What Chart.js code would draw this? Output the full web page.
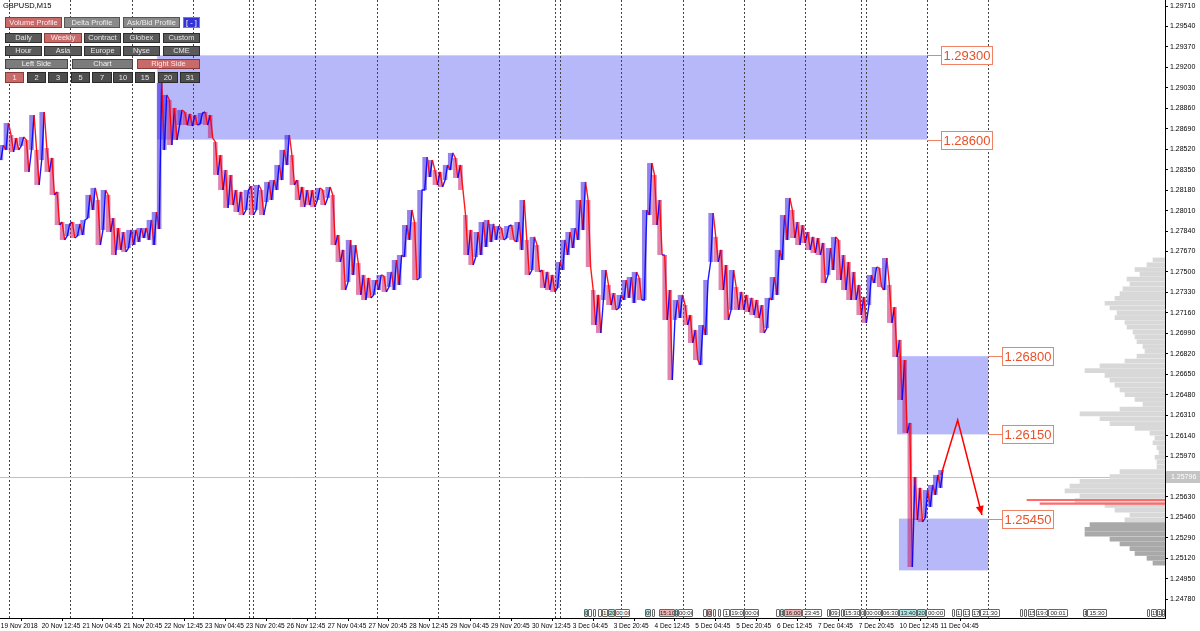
<!DOCTYPE html>
<html><head><meta charset="utf-8">
<script src="https://cdn.jsdelivr.net/npm/chart.js@4.4.1/dist/chart.umd.min.js"></script>
<style>
html,body{margin:0;padding:0;background:#fff;}
#wrap{position:relative;width:1200px;height:631px;overflow:hidden;font-family:'Liberation Sans',Arial,sans-serif;}
#main{position:absolute;left:0;top:0;}
#prof{position:absolute;left:1000px;top:0;}
.btn{position:absolute;box-sizing:border-box;font-size:7.5px;text-align:center;color:#f0f0f0;border:1px solid #333;white-space:nowrap;overflow:hidden;}
.mk{position:absolute;top:609px;height:8px;box-sizing:border-box;border:1px solid #666;font-size:6px;line-height:6px;overflow:hidden;text-align:center;color:#222;border-radius:1px;white-space:nowrap;}
#title{position:absolute;left:3px;top:1px;font-size:7.5px;color:#000;}
</style></head>
<body><div id="wrap"><canvas id="main" width="1200" height="631"></canvas><canvas id="prof" width="165" height="618"></canvas><div id="title">GBPUSD,M15</div></div>
<script>
// ---------- data ----------
const xLabels = ['19 Nov 2018','20 Nov 12:45','21 Nov 04:45','21 Nov 20:45','22 Nov 12:45','23 Nov 04:45','23 Nov 20:45','26 Nov 12:45','27 Nov 04:45','27 Nov 20:45','28 Nov 12:45','29 Nov 04:45','29 Nov 20:45','30 Nov 12:45','3 Dec 04:45','3 Dec 20:45','4 Dec 12:45','5 Dec 04:45','5 Dec 20:45','6 Dec 12:45','7 Dec 04:45','7 Dec 20:45','10 Dec 12:45','11 Dec 04:45'];
const labelEvery = 64;   // M15 bars between time labels
const sampleBars = 8;    // M15 bars per sample below
const yTicks = [1.24780,1.24950,1.25120,1.25290,1.25460,1.25630,1.25800,1.25970,1.26140,1.26310,1.26480,1.26650,1.26820,1.26990,1.27160,1.27330,1.27500,1.27670,1.27840,1.28010,1.28180,1.28350,1.28520,1.28690,1.28860,1.29030,1.29200,1.29370,1.29540,1.29710];
const highs = [
1.28555,1.28738,1.28638,1.28613,1.28622,1.28597,1.28804,1.28514,1.28829,1.28530,
1.28447,1.28165,1.27915,1.27899,1.27915,1.27899,1.27932,1.28140,1.28198,1.28098,
1.28181,1.28140,1.27948,1.27865,1.27832,1.27849,1.27849,1.27865,1.27865,1.27932,
1.27998,1.29070,1.28971,1.28929,1.28863,1.28846,1.28829,1.28813,1.28804,1.28821,
1.28829,1.28804,1.28580,1.28472,1.28347,1.28306,1.28181,1.28165,1.28181,1.28214,
1.28223,1.28181,1.28248,1.28264,1.28389,1.28514,1.28638,1.28472,1.28264,1.28206,
1.28181,1.28181,1.28198,1.28181,1.28206,1.28140,1.27807,1.27683,1.27766,1.27724,
1.27574,1.27475,1.27450,1.27433,1.27475,1.27466,1.27500,1.27599,1.27641,1.27890,
1.28015,1.27915,1.28181,1.28455,1.28430,1.28347,1.28331,1.28389,1.28489,1.28447,
1.28389,1.27973,1.27849,1.27832,1.27915,1.27932,1.27899,1.27882,1.27865,1.27882,
1.27890,1.27915,1.28098,1.27766,1.27791,1.27724,1.27516,1.27500,1.27475,1.27583,
1.27766,1.27832,1.27865,1.28098,1.28248,1.28098,1.27350,1.27309,1.27516,1.27392,
1.27325,1.27309,1.27433,1.27458,1.27500,1.27450,1.28015,1.28405,1.28306,1.28098,
1.27641,1.27350,1.27267,1.27309,1.27225,1.27142,1.27018,1.27059,1.27433,1.27990,
1.27791,1.27683,1.27558,1.27516,1.27375,1.27334,1.27309,1.27284,1.27267,1.27225,
1.27284,1.27458,1.27683,1.27973,1.28115,1.28015,1.27915,1.27890,1.27832,1.27791,
1.27782,1.27741,1.27699,1.27791,1.27766,1.27641,1.27583,1.27500,1.27392,1.27292,
1.27475,1.27541,1.27533,1.27616,1.27392,1.27208,1.26935,1.26768,1.26245,1.25796,
1.25705,1.25688,1.25730,1.25813,1.25854];
const lows = [
1.28430,1.28514,1.28497,1.28514,1.28547,1.28331,1.28514,1.28223,1.28430,1.28331,
1.28140,1.27890,1.27766,1.27799,1.27782,1.27799,1.27807,1.27948,1.28015,1.27724,
1.27849,1.27832,1.27641,1.27683,1.27666,1.27699,1.27724,1.27749,1.27782,1.27766,
1.27724,1.27857,1.28514,1.28555,1.28597,1.28721,1.28721,1.28713,1.28721,1.28730,
1.28721,1.28613,1.28306,1.28181,1.28032,1.28056,1.27998,1.27973,1.28015,1.27973,
1.28015,1.27973,1.28081,1.28098,1.28181,1.28264,1.28389,1.28223,1.28098,1.28040,
1.28056,1.28040,1.28098,1.28056,1.28115,1.27724,1.27583,1.27350,1.27417,1.27475,
1.27309,1.27267,1.27284,1.27309,1.27350,1.27334,1.27375,1.27350,1.27392,1.27624,
1.27766,1.27433,1.27450,1.28181,1.28289,1.28223,1.28206,1.28264,1.28347,1.28281,
1.28181,1.27641,1.27558,1.27624,1.27641,1.27707,1.27749,1.27766,1.27766,1.27782,
1.27766,1.27749,1.27683,1.27475,1.27516,1.27500,1.27367,1.27350,1.27334,1.27367,
1.27516,1.27641,1.27699,1.27766,1.27849,1.27541,1.27059,1.26993,1.27267,1.27225,
1.27184,1.27200,1.27267,1.27284,1.27242,1.27267,1.27267,1.27973,1.27890,1.27641,
1.27101,1.26602,1.27101,1.27117,1.27059,1.26910,1.26768,1.26727,1.26976,1.27583,
1.27583,1.27350,1.27101,1.27184,1.27184,1.27184,1.27167,1.27142,1.27117,1.26993,
1.27034,1.27267,1.27309,1.27599,1.27766,1.27782,1.27724,1.27741,1.27683,1.27658,
1.27641,1.27408,1.27475,1.27516,1.27433,1.27350,1.27267,1.27267,1.27142,1.27076,
1.27225,1.27408,1.27375,1.27350,1.27076,1.26793,1.26436,1.26162,1.25048,1.25439,
1.25422,1.25455,1.25547,1.25647,1.25705];
const daySeparators = [13,109,205,301,389,395,492,589,685,780,868,876,972,1069,1164,1260,1348,1355,1451,1547];
const zoneFrom   = [245, 1404, 1407];
const zoneTo     = [1451, 1547, 1547];
const zoneTop    = [1.29300, 1.26800, 1.25450];
const zoneBottom = [1.28600, 1.26150, 1.25020];
const levelPrices = [1.29300, 1.28600, 1.26800, 1.26150, 1.25450];
const levelAnchor = [1451, 1451, 1547, 1547, 1547];
const arrowX = [1473, 1499, 1537];
const arrowY = [1.25813, 1.26270, 1.25480];
const lastPrice = 1.25796;
const profPrices = [1.2760,1.2756,1.2752,1.2748,1.2744,1.2740,1.2736,1.2732,1.2728,1.2724,1.2720,1.2716,1.2712,1.2708,1.2704,1.2700,1.2696,1.2692,1.2688,1.2684,1.2680,1.2676,1.2672,1.2668,1.2664,1.2660,1.2656,1.2652,1.2648,1.2644,1.2640,1.2636,1.2632,1.2628,1.2624,1.2620,1.2616,1.2612,1.2608,1.2604,1.2600,1.2596,1.2592,1.2588,1.2584,1.2580,1.2576,1.2572,1.2568,1.2564,1.2560,1.2556,1.2552,1.2548,1.2544,1.2540,1.2536,1.2532,1.2528,1.2524,1.2520,1.2516,1.2512,1.2508];
const profVolumes = [12,18,30,25,38,35,42,45,50,60,55,48,50,40,38,32,30,28,22,20,28,40,65,80,60,55,50,45,40,30,22,45,85,65,55,30,15,10,12,8,6,10,8,8,45,55,85,95,100,85,90,60,50,35,40,75,80,80,55,45,35,30,18,12];
const pocPrices = [1.25605, 1.25575];
const pocVolumes = [138, 125];

// ---------- layout constants ----------
const yMin = 1.24624, yMax = 1.29760;
const xMin = -1.33, xMax = 1823.8;

const blue = 'rgba(0,0,255,0.9)', red = 'rgba(255,0,0,0.9)';
const barColors = highs.map((h, i) => i === 0 ? blue : ((h + lows[i]) >= (highs[i-1] + lows[i-1]) ? blue : red));
// each 2-hour sample is drawn as its low->high (rising) or high->low (falling) swing
const pricePath = [];
highs.forEach((h, i) => {
  const up = barColors[i] === blue;
  pricePath.push({x: i * sampleBars, y: up ? lows[i] : h});
  pricePath.push({x: i * sampleBars + sampleBars / 2, y: up ? h : lows[i]});
});

const mtPlugin = {
  id: 'mt',
  beforeDatasetsDraw(chart) {
    const {ctx, chartArea: a, scales: {x, y}} = chart;
    ctx.save();
    ctx.beginPath(); ctx.rect(a.left, a.top, a.right - a.left, a.bottom - a.top); ctx.clip();
    ctx.fillStyle = 'rgb(182,184,250)';
    zoneFrom.forEach((f, i) => {
      const x0 = x.getPixelForValue(f), x1 = x.getPixelForValue(zoneTo[i]);
      const y0 = y.getPixelForValue(zoneTop[i]), y1 = y.getPixelForValue(zoneBottom[i]);
      ctx.fillRect(x0, y0, x1 - x0, y1 - y0);
    });
    ctx.strokeStyle = '#444'; ctx.lineWidth = 1; ctx.setLineDash([2, 2]);
    daySeparators.forEach(b => {
      const px = Math.round(x.getPixelForValue(b)) + 0.5;
      ctx.beginPath(); ctx.moveTo(px, a.top); ctx.lineTo(px, a.bottom); ctx.stroke();
    });
    ctx.setLineDash([]);
    const py = Math.round(y.getPixelForValue(lastPrice)) + 0.5;
    ctx.strokeStyle = '#c0c0c0';
    ctx.beginPath(); ctx.moveTo(a.left, py); ctx.lineTo(a.right, py); ctx.stroke();
    ctx.restore();
  },
  afterDatasetsDraw(chart) {
    const {ctx, scales: {x, y}} = chart;
    const pts = chart.getDatasetMeta(2).data;
    const p1 = pts[pts.length - 2], p2 = pts[pts.length - 1];
    const ang = Math.atan2(p2.y - p1.y, p2.x - p1.x);
    ctx.save();
    ctx.fillStyle = '#ff0000';
    ctx.beginPath();
    ctx.moveTo(p2.x, p2.y);
    ctx.lineTo(p2.x - 9 * Math.cos(ang) + 4 * Math.sin(ang), p2.y - 9 * Math.sin(ang) - 4 * Math.cos(ang));
    ctx.lineTo(p2.x - 9 * Math.cos(ang) - 4 * Math.sin(ang), p2.y - 9 * Math.sin(ang) + 4 * Math.cos(ang));
    ctx.closePath(); ctx.fill();
    ctx.font = '13px "Liberation Sans", Arial, sans-serif';
    ctx.textBaseline = 'middle'; ctx.textAlign = 'left';
    levelPrices.forEach((p, i) => {
      const ax = x.getPixelForValue(levelAnchor[i]);
      const ly = Math.round(y.getPixelForValue(p)) + 0.5;
      const bx = Math.round(ax + 14) + 0.5;
      ctx.strokeStyle = 'rgb(240,130,100)'; ctx.lineWidth = 1;
      ctx.beginPath(); ctx.moveTo(ax, ly); ctx.lineTo(bx, ly); ctx.stroke();
      const txt = p.toFixed(5);
      const w = Math.round(ctx.measureText(txt).width + 4);
      ctx.fillStyle = '#fff'; ctx.fillRect(bx, ly - 9, w, 18);
      ctx.strokeRect(bx, ly - 9, w, 18);
      ctx.fillStyle = 'rgb(232,80,40)';
      ctx.fillText(txt, bx + 2, ly + 0.5);
    });
    ctx.restore();
  },
  afterDraw(chart) {
    const {ctx, chartArea: a, scales: {y}} = chart;
    const py = Math.round(y.getPixelForValue(lastPrice));
    ctx.save();
    ctx.fillStyle = '#c4c4c4'; ctx.fillRect(a.right + 1, py - 6, 34, 12);
    ctx.fillStyle = '#fff'; ctx.font = '7px "Liberation Sans", Arial, sans-serif';
    ctx.textBaseline = 'middle'; ctx.textAlign = 'left';
    ctx.fillText(lastPrice.toFixed(5), a.right + 6, py);
    ctx.restore();
  }
};

new Chart(document.getElementById('main'), {
  type: 'bar',
  data: { datasets: [
    { type: 'bar', data: highs.map((h, i) => ({x: i * sampleBars, y: [lows[i], h]})),
      backgroundColor: barColors.map(c => c === blue ? 'rgba(60,30,220,0.55)' : 'rgba(200,30,110,0.55)'),
      borderWidth: 0, categoryPercentage: 1, barPercentage: 0.9, order: 3 },
    { type: 'line', data: pricePath, borderWidth: 1.4, pointRadius: 0, fill: false, tension: 0, order: 2,
      borderColor: blue,
      segment: { borderColor: c => (c.p1.parsed.y >= c.p0.parsed.y ? blue : red) } },
    { type: 'line', data: arrowX.map((v, i) => ({x: v, y: arrowY[i]})),
      borderColor: '#ff0000', borderWidth: 1.5, pointRadius: 0, fill: false, tension: 0, order: 1 }
  ]},
  options: {
    responsive: false, animation: false, events: [],
    layout: {padding: 0},
    plugins: {legend: {display: false}, tooltip: {enabled: false}},
    scales: {
      x: { type: 'linear', position: 'bottom', min: xMin, max: xMax, offset: false,
        afterBuildTicks: s => { s.ticks = xLabels.map((_, i) => ({value: i * labelEvery})); },
        afterFit: s => { s.height = 13; s.paddingLeft = 0; s.paddingRight = 0; },
        ticks: { autoSkip: false, maxRotation: 0, minRotation: 0, align: 'start', padding: 1, color: '#000',
          font: {family: 'Liberation Sans', size: 6.5}, callback: (v, i) => xLabels[i] },
        grid: { drawOnChartArea: false, drawTicks: true, tickLength: 3, color: '#000' },
        border: { display: true, color: '#000' } },
      y: { type: 'linear', position: 'right', min: yMin, max: yMax,
        afterBuildTicks: s => { s.ticks = yTicks.map(v => ({value: v})); },
        afterFit: s => { s.width = 35; s.paddingTop = 0; s.paddingBottom = 0; },
        ticks: { autoSkip: false, padding: 2, color: '#000',
          font: {family: 'Liberation Sans', size: 7}, callback: v => Number(v).toFixed(5) },
        grid: { drawOnChartArea: false, drawTicks: true, tickLength: 3, color: '#000' },
        border: { display: true, color: '#000' } }
    }
  },
  plugins: [mtPlugin]
});

new Chart(document.getElementById('prof'), {
  type: 'bar',
  data: { datasets: [
    { data: profPrices.map((p, i) => ({x: profVolumes[i], y: p})),
      backgroundColor: profPrices.map(p => p <= 1.2540 ? '#a9a9a9' : '#d8d8d8'),
      barThickness: 4, grouped: false, borderWidth: 0, order: 2 },
    { data: pocPrices.map((p, i) => ({x: pocVolumes[i], y: p})),
      backgroundColor: '#ff6a6a', barThickness: 1.5, grouped: false, borderWidth: 0, order: 1 }
  ]},
  options: {
    indexAxis: 'y', responsive: false, animation: false, events: [],
    layout: {padding: 0},
    plugins: {legend: {display: false}, tooltip: {enabled: false}},
    scales: {
      x: {type: 'linear', display: false, reverse: true, min: 0, max: 165, offset: false},
      y: {type: 'linear', display: false, min: yMin, max: yMax, offset: false}
    }
  }
});

// ---------- indicator button panel (UI overlay) ----------
const styles = {
  red:  ['#c86a6a', '#8a3a3a', '#fbeaea'],
  gray: ['#8a8a8a', '#555', '#eee'],
  blue: ['#3434d6', '#7070ff', '#fff'],
  dark: ['#5a5a5a', '#2e2e2e', '#e6e6e6'],
  mid:  ['#7c7c7c', '#444', '#f0f0f0'],
  num:  ['#4e4e4e', '#2a2a2a', '#e6e6e6']
};
const buttons = [
  [5,17,57,11,'Volume Profile','red'],[64,17,56,11,'Delta Profile','gray'],[123,17,57,11,'Ask/Bid Profile','gray'],[183,17,17,11,'[ - ]','blue'],
  [5,33,37,10,'Daily','dark'],[44,33,38,10,'Weekly','red'],[84,33,37,10,'Contract','dark'],[123,33,37,10,'Globex','dark'],[163,33,37,10,'Custom','dark'],
  [5,46,37,10,'Hour','dark'],[44,46,38,10,'Asia','dark'],[84,46,37,10,'Europe','dark'],[123,46,37,10,'Nyse','dark'],[163,46,37,10,'CME','dark'],
  [5,59,63,10,'Left Side','mid'],[72,59,61,10,'Chart','mid'],[137,59,63,10,'Right Side','red'],
  [5,72,19,11,'1','red'],[27,72,19,11,'2','num'],[48,72,20,11,'3','num'],[71,72,19,11,'5','num'],[92,72,20,11,'7','num'],[113,72,20,11,'10','num'],[135,72,20,11,'15','num'],[158,72,20,11,'20','num'],[180,72,20,11,'31','num']
];
const wrap = document.getElementById('wrap');
buttons.forEach(([x, y, w, h, t, s]) => {
  const d = document.createElement('div');
  d.className = 'btn';
  const st = styles[s];
  d.style.cssText = `left:${x}px;top:${y}px;width:${w}px;height:${h}px;line-height:${h-2}px;background:${st[0]};border-color:${st[1]};color:${st[2]};`;
  d.textContent = t;
  wrap.appendChild(d);
});

// ---------- event markers along the time axis (UI overlay) ----------
const mkColors = {c: '#aee8e8', p: '#f2b4b4', w: '#ffffff'};
const markers = [
 [584,4,'0','c'],[588,4,'','w'],[593,3,'','w'],[598,4,'','w'],[602,6,'1:','w'],[608,7,'20','c'],[615,15,'00:00','w'],
 [645,6,'09:','c'],[652,3,'','w'],[659,16,'15:10','p'],[675,3,'2','c'],[678,15,'00:00','w'],
 [703,4,'','w'],[707,5,'0','p'],[713,3,'','w'],[718,3,'','w'],[723,7,'1','w'],[730,14,'19:0','w'],[744,15,'00:00','w'],
 [776,4,'','w'],[780,4,'1','c'],[784,18,'16:00','p'],[802,20,'23:45','w'],
 [827,3,'','w'],[830,10,'09:','w'],[841,3,'','w'],[844,16,'15:30','w'],[860,5,'0','w'],[865,17,'00:00','w'],[882,17,'06:30','w'],[899,18,'13:40','c'],[917,9,'20','c'],[926,19,'00:00','w'],
 [952,3,'','w'],[956,6,'1:','w'],[963,7,'13','w'],[972,8,'17:','w'],[980,20,'21:30','w'],
 [1020,3,'','w'],[1024,3,'','w'],[1028,7,'15','w'],[1036,12,'19:0','w'],[1048,20,'00:01','w'],
 [1083,4,'1','w'],[1087,20,'15:30','w'],
 [1147,3,'','w'],[1151,6,'15','w'],[1157,5,'1','w'],[1162,3,'2','w']
];
markers.forEach(([x, w, t, c]) => {
  const d = document.createElement('div');
  d.className = 'mk';
  d.style.cssText = `left:${x}px;width:${w}px;background:${mkColors[c]};`;
  d.textContent = t;
  wrap.appendChild(d);
});
</script></body></html>
